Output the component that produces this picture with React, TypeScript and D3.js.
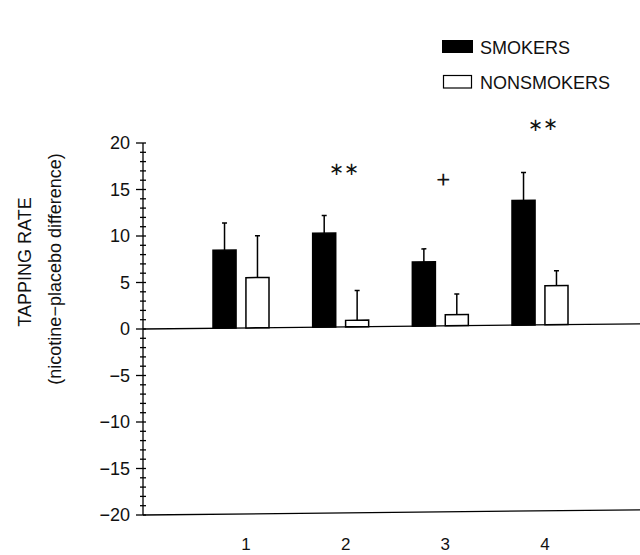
import React from 'react';
import * as d3 from 'd3';

// values
const groups = ['1', '2', '3', '4'];
const series = ['SMOKERS', 'NONSMOKERS'];
const smokers = [8.4, 10.1, 6.9, 13.4];
const smokersErr = [2.9, 1.9, 1.4, 3.0];
const nonsmokers = [5.4, 0.7, 1.2, 4.2];
const nonsmokersErr = [4.5, 3.2, 2.2, 1.6];
const marks = [
  { group: '2', label: '∗∗', y: 17.0, size: 18 },
  { group: '3', label: '+', y: 15.8, size: 24 },
  { group: '4', label: '∗∗', y: 21.6, size: 18 },
];
const yTicks = [20, 15, 10, 5, 0, -5, -10, -15, -20];

const W = 640;
const H = 555;
const FONT = '"Liberation Sans", Arial, sans-serif';

export default function App() {
  const axisX = 143;
  const y = d3.scaleLinear().domain([-20, 20]).range([515, 143]);
  const x = d3.scalePoint().domain(groups).range([241, 540]);
  const inner = d3.scaleBand().domain(series).range([-28, 28]).paddingInner(0.3);
  const bw = inner.bandwidth();

  const rows = groups.map((g, i) => ({
    g,
    bars: [
      { s: series[0], v: smokers[i], e: smokersErr[i], fill: '#000' },
      { s: series[1], v: nonsmokers[i], e: nonsmokersErr[i], fill: '#fff' },
    ],
  }));

  const minor = d3.range(-20, 21);
  const fmt = (d: number) => (d < 0 ? '\u2212' + Math.abs(d) : String(d));

  return (
    <svg width={W} height={H} style={{ position: 'absolute', left: 0, top: 0, background: '#fff' }}>
      {/* legend */}
      <g fontFamily={FONT} fontSize={18} fill="#111">
        <rect x={442} y={40} width={31} height={13} fill="#000" />
        <text x={480} y={53.5}>SMOKERS</text>
        <rect x={443.5} y={75.5} width={28} height={12.5} fill="#fff" stroke="#000" strokeWidth={1.2} />
        <text x={480} y={88.5}>NONSMOKERS</text>
      </g>

      {/* y axis */}
      <g stroke="#000" strokeWidth={1.3}>
        <line x1={axisX} x2={axisX} y1={y(20)} y2={y(-20)} />
        {minor.map(d => (
          <line key={d} x1={axisX - (d % 5 === 0 ? 7 : 3)} x2={axisX + 3} y1={y(d)} y2={y(d)} />
        ))}
      </g>
      <g fontFamily={FONT} fontSize={18} fill="#111" textAnchor="end">
        {yTicks.map(d => (
          <text key={d} x={130} y={y(d)} dy="0.36em">{fmt(d)}</text>
        ))}
      </g>
      <g fontFamily={FONT} fill="#111" textAnchor="middle" fontSize={18}>
        <text transform="translate(31,262) rotate(-90)">TAPPING RATE</text>
        <text transform="translate(61,269) rotate(-90)">{'(nicotine\u2212placebo difference)'}</text>
      </g>

      {/* plot area, slightly skewed like the scan */}
      <g transform={`translate(${axisX},0) skewY(-0.6) translate(${-axisX},0)`}>
        <line x1={axisX} x2={W} y1={y(0)} y2={y(0)} stroke="#000" strokeWidth={1.3} />
        <line x1={axisX} x2={W} y1={y(-20)} y2={y(-20)} stroke="#000" strokeWidth={1.3} />
        {rows.map(r => (
          <g key={r.g} transform={`translate(${x(r.g)},0)`}>
            {r.bars.map(b => {
              const bx = inner(b.s) as number;
              const cx = bx + bw / 2;
              return (
                <g key={b.s}>
                  <line x1={cx} x2={cx} y1={y(b.v)} y2={y(b.v + b.e)} stroke="#000" strokeWidth={1.5} />
                  <line x1={cx - 2.5} x2={cx + 2.5} y1={y(b.v + b.e)} y2={y(b.v + b.e)} stroke="#000" strokeWidth={1.5} />
                  <rect x={bx} y={y(b.v)} width={bw} height={y(0) - y(b.v)} fill={b.fill} stroke="#000" strokeWidth={1.5} />
                </g>
              );
            })}
          </g>
        ))}
        <g fontFamily={FONT} fill="#111" textAnchor="middle">
          {marks.map(m => (
            <text key={m.group} x={(x(m.group) as number) + 3} y={y(m.y)} dy="0.36em" fontSize={m.size}>{m.label}</text>
          ))}
        </g>
      </g>

      {/* group labels */}
      <g fontFamily={FONT} fontSize={17} fill="#111" textAnchor="middle">
        {groups.map(g => (
          <text key={g} x={(x(g) as number) + 5} y={550}>{g}</text>
        ))}
      </g>
    </svg>
  );
}
